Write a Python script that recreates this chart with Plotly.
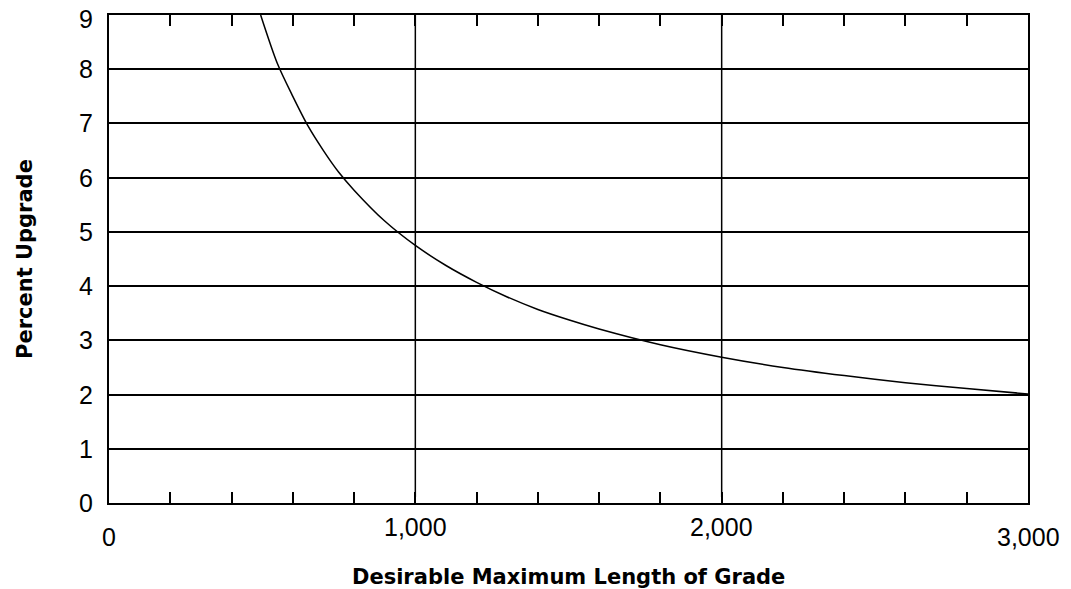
import plotly.graph_objects as go

# Data
length_ft = [495, 550, 600, 650, 700, 750, 800, 900, 1000, 1100, 1200, 1300, 1400, 1500, 1600,
             1800, 2000, 2200, 2400, 2600, 2800, 3000]
upgrade_pct = [9.0, 8.1, 7.5, 6.95, 6.5, 6.1, 5.77, 5.2, 4.75, 4.38, 4.07, 3.8, 3.57, 3.38, 3.21,
               2.92, 2.69, 2.5, 2.35, 2.22, 2.11, 2.01]

x_ticks = list(range(0, 3001, 200))
x_labels = [(0, "0", -34), (1000, "1,000", -24), (2000, "2,000", -24), (3000, "3,000", -34)]
y_ticks = list(range(0, 10))
y_labels = [str(v) for v in y_ticks]
x_grid = [1000, 2000]

FONT = "Liberation Sans, Arial, sans-serif"
TITLE_FONT = "DejaVu Sans, Liberation Sans, sans-serif"

fig = go.Figure()
fig.add_trace(go.Scatter(
    x=length_ft, y=upgrade_pct, mode="lines",
    line=dict(color="black", width=1.5, shape="spline", smoothing=0.8),
    hoverinfo="skip", showlegend=False,
))

for gx in x_grid:
    fig.add_shape(type="line", xref="x", yref="paper", x0=gx, x1=gx, y0=0.012, y1=1,
                  line=dict(color="black", width=1.5), layer="above")

annotations = []
for v, t, s in x_labels:
    annotations.append(dict(x=v, y=0, xref="x", yref="paper", text=t, showarrow=False,
                            xanchor="center", yanchor="middle", yshift=s,
                            font=dict(family=FONT, size=25, color="black")))
for v, t in zip(y_ticks, y_labels):
    annotations.append(dict(x=0, y=v, xref="paper", yref="y", text=t, showarrow=False,
                            xanchor="right", yanchor="middle", xshift=-14,
                            yshift=(-4 if v == 9 else 0),
                            font=dict(family=FONT, size=25, color="black")))
annotations.append(dict(x=0.5, y=0, xref="paper", yref="paper",
                        text="<b>Desirable Maximum Length of Grade</b>", showarrow=False,
                        xanchor="center", yanchor="middle", yshift=-74,
                        font=dict(family=TITLE_FONT, size=21, color="black")))
annotations.append(dict(x=0, y=0.5, xref="paper", yref="paper", text="<b>Percent Upgrade</b>",
                        showarrow=False, textangle=-90, xanchor="center", yanchor="middle",
                        xshift=-84, font=dict(family=TITLE_FONT, size=21, color="black")))

# page body has an 8px margin, so the figure is sized/offset to compensate
fig.update_layout(
    width=1063, height=581,
    margin=dict(l=101, r=43, t=7, b=86, autoexpand=False),
    paper_bgcolor="white", plot_bgcolor="white",
    font=dict(family=FONT, size=25, color="black"),
    annotations=annotations,
    xaxis=dict(range=[0, 3000], tickvals=x_ticks, showticklabels=False,
               ticks="inside", ticklen=11, tickwidth=1.5, tickcolor="black",
               showline=True, linecolor="black", linewidth=1.5, mirror="allticks",
               showgrid=False, zeroline=False, fixedrange=True, automargin=False),
    yaxis=dict(range=[0, 9], tickvals=y_ticks, ticks="", showticklabels=False,
               showline=True, linecolor="black", linewidth=1.5, mirror=True,
               showgrid=True, gridcolor="black", gridwidth=1.5, zeroline=False,
               fixedrange=True, automargin=False),
)

fig.write_html("out.html")
